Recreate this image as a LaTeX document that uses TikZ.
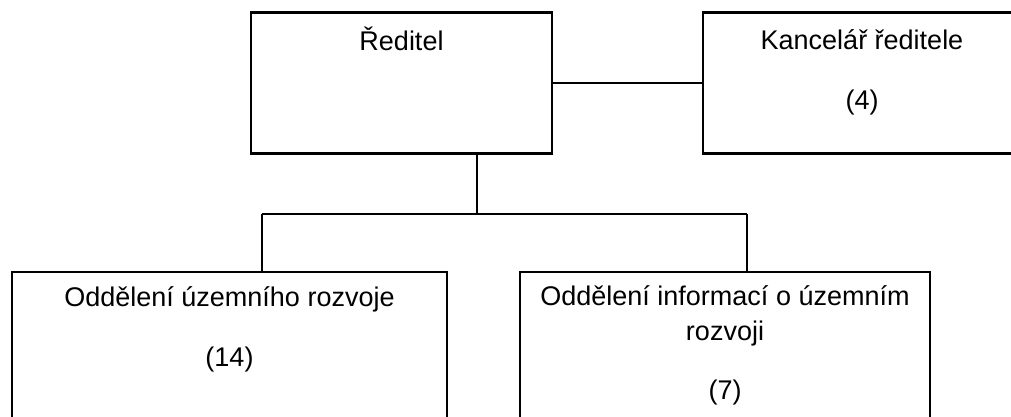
\documentclass[tikz,border=0pt]{standalone}
\usepackage{fontspec}
\setmainfont{Liberation Sans}
\usetikzlibrary{positioning, calc}

\begin{document}
\begin{tikzpicture}[
  x=0.5pt, y=-0.5pt,
  orgbox/.style={draw, rectangle, line width=1.2pt, inner sep=0pt},
  boxtext/.style={font=\fontsize{13.5}{17.25}\selectfont, align=center, anchor=base, inner sep=0pt},
  link/.style={line width=1.2pt}
]
\useasboundingbox (0,0) rectangle (1011,417);
\clip (0,0) rectangle (1011,417);
\fill[white] (0,0) rectangle (1011,417);

% boxes
\node[orgbox, minimum width=150.5pt, minimum height=70.5pt] (Dir) at (401.5,83) {};
\node[orgbox, minimum width=159pt, minimum height=70.5pt] (Office) at (862,83) {};
\node[orgbox, minimum width=217.5pt, minimum height=80pt] (DevDept) at (229.5,352) {};
\node[orgbox, minimum width=205pt, minimum height=80pt] (InfoDept) at (725,352) {};

% texts (base = last line)
\node[boxtext] (Dir_txt) at (401.5,51) {Ředitel};
\node[boxtext] (Office_txt) at (862,109.5) {Kancelář ředitele\\[12.5pt](4)};
\node[boxtext] (DevDept_txt) at (229.5,366) {Oddělení územního rozvoje\\[12.5pt](14)};
\node[boxtext] (InfoDept_txt) at (725,399.5) {Oddělení informací o územním\\rozvoji\\[12.5pt](7)};

% branch points
\coordinate (Split) at (477,214);
\coordinate (SplitL) at (262,214);
\coordinate (SplitR) at (747,214);

\draw[link] (Dir.east) -- (Office.west);
\draw[link] (Dir.south -| Split) -- (Split);
\draw[link] (SplitL) -- (SplitR);
\draw[link] (SplitL) -- (SplitL |- DevDept.north);
\draw[link] (SplitR) -- (SplitR |- InfoDept.north);
\end{tikzpicture}
\end{document}
